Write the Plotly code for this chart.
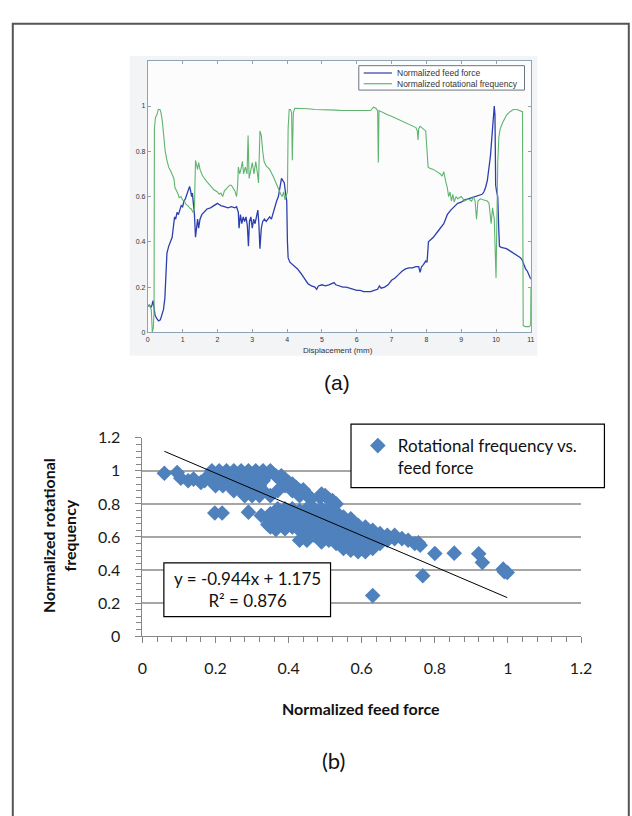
import plotly.graph_objects as go

# ---------------- Panel (a) data ----------------
disp_ff = [0.00,0.05,0.09,0.12,0.15,0.17,0.21,0.26,0.31,0.36,0.40,0.45,0.49,0.52,0.55,0.60,0.65,0.70,0.73,0.77,
           0.80,0.84,0.88,0.92,0.96,1.00,1.04,1.08,1.12,1.16,1.20,1.23,1.26,1.28,1.31,1.34,1.37,1.40,1.43,1.46,
           1.50,1.55,1.60,1.65,1.70,1.80,1.90,2.00,2.05,2.10,2.20,2.30,2.40,2.50,2.55,2.60,2.62,2.66,2.70,2.74,
           2.78,2.82,2.86,2.89,2.92,2.96,3.00,3.04,3.08,3.12,3.16,3.19,3.22,3.26,3.30,3.35,3.40,3.45,3.50,3.55,
           3.60,3.65,3.70,3.75,3.80,3.84,3.88,3.92,3.96,3.99,4.01,4.03,4.08,4.15,4.20,4.30,4.40,4.50,4.60,4.70,
           4.80,4.85,4.90,5.00,5.10,5.20,5.30,5.35,5.40,5.50,5.60,5.70,5.80,5.90,6.00,6.10,6.20,6.30,6.40,6.50,
           6.60,6.65,6.70,6.80,6.90,7.00,7.10,7.20,7.30,7.40,7.50,7.60,7.70,7.78,7.82,7.86,7.92,7.98,8.02,8.06,
           8.10,8.20,8.30,8.40,8.50,8.55,8.60,8.70,8.80,8.90,9.00,9.10,9.20,9.30,9.40,9.50,9.60,9.65,9.70,9.75,
           9.80,9.84,9.88,9.92,9.95,9.97,9.99,10.02,10.05,10.08,10.10,10.15,10.30,10.40,10.50,10.60,10.70,10.75,10.80,10.85,
           10.90,10.95,11.00]
feed_force = [0.115,0.12,0.11,0.12,0.14,0.11,0.075,0.06,0.05,0.055,0.08,0.10,0.15,0.25,0.35,0.38,0.40,0.42,0.46,0.51,
              0.50,0.53,0.52,0.545,0.56,0.555,0.58,0.59,0.61,0.62,0.645,0.625,0.60,0.615,0.57,0.52,0.42,0.47,0.50,0.46,
              0.50,0.52,0.53,0.54,0.545,0.55,0.56,0.57,0.565,0.56,0.555,0.55,0.555,0.55,0.555,0.53,0.46,0.52,0.48,0.51,
              0.49,0.51,0.47,0.38,0.49,0.51,0.46,0.50,0.48,0.52,0.54,0.48,0.37,0.46,0.49,0.50,0.49,0.50,0.51,0.50,
              0.53,0.56,0.58,0.60,0.64,0.68,0.67,0.66,0.61,0.58,0.40,0.33,0.31,0.30,0.295,0.28,0.26,0.235,0.215,0.205,
              0.20,0.19,0.205,0.21,0.205,0.21,0.215,0.22,0.21,0.205,0.20,0.20,0.195,0.19,0.185,0.185,0.18,0.18,0.18,0.185,
              0.19,0.205,0.195,0.20,0.21,0.23,0.24,0.255,0.27,0.28,0.285,0.285,0.29,0.29,0.265,0.29,0.30,0.315,0.31,0.40,
              0.405,0.42,0.44,0.46,0.48,0.50,0.52,0.54,0.555,0.57,0.575,0.585,0.59,0.595,0.60,0.605,0.61,0.62,0.64,0.67,
              0.72,0.78,0.86,0.93,1.00,0.96,0.65,0.62,0.60,0.45,0.38,0.375,0.37,0.36,0.35,0.34,0.33,0.32,0.30,0.28,
              0.27,0.25,0.235]

disp_rf = [0.00,0.05,0.10,0.13,0.16,0.18,0.19,0.22,0.26,0.30,0.35,0.38,0.42,0.46,0.50,0.55,0.60,0.65,0.70,0.75,
           0.78,0.82,0.86,0.90,0.95,1.00,1.05,1.10,1.15,1.20,1.25,1.30,1.34,1.37,1.40,1.43,1.46,1.50,1.55,1.60,
           1.70,1.80,1.90,2.00,2.05,2.10,2.15,2.20,2.30,2.35,2.40,2.45,2.50,2.55,2.58,2.60,2.64,2.68,2.72,2.75,
           2.80,2.85,2.88,2.91,2.95,3.00,3.05,3.10,3.15,3.18,3.22,3.26,3.30,3.34,3.40,3.50,3.60,3.65,3.70,3.76,
           3.82,3.86,3.90,3.94,3.98,4.01,4.03,4.06,4.10,4.13,4.15,4.18,4.22,4.40,4.60,4.80,5.00,5.20,5.40,5.60,
           5.80,6.00,6.20,6.40,6.48,6.55,6.60,6.62,6.64,6.70,6.80,6.90,7.00,7.20,7.40,7.50,7.60,7.70,7.74,7.76,
           7.78,7.82,7.90,7.98,8.02,8.05,8.10,8.20,8.30,8.40,8.45,8.50,8.55,8.60,8.64,8.68,8.72,8.76,8.80,8.85,
           8.90,9.00,9.10,9.20,9.30,9.35,9.40,9.44,9.48,9.55,9.65,9.75,9.80,9.83,9.86,9.90,9.95,10.00,10.02,10.05,
           10.08,10.12,10.20,10.30,10.40,10.50,10.60,10.70,10.76,10.78,10.85,10.95,10.99,11.00]
rot_freq = [0.12,0.12,0.10,0.00,0.02,0.10,0.90,0.95,0.96,0.985,0.985,0.97,0.93,0.87,0.80,0.76,0.73,0.715,0.70,0.68,
            0.64,0.63,0.615,0.595,0.60,0.585,0.58,0.565,0.56,0.55,0.545,0.53,0.55,0.76,0.74,0.72,0.75,0.72,0.70,0.685,
            0.665,0.645,0.63,0.62,0.61,0.615,0.60,0.625,0.64,0.65,0.65,0.64,0.625,0.60,0.65,0.73,0.70,0.725,0.755,0.70,
            0.73,0.70,0.87,0.68,0.72,0.75,0.70,0.755,0.70,0.66,0.89,0.87,0.80,0.755,0.735,0.72,0.69,0.67,0.65,0.625,
            0.61,0.60,0.62,0.585,0.60,0.62,0.90,0.985,0.985,0.97,0.76,0.97,0.99,0.99,0.988,0.985,0.985,0.982,0.982,0.98,
            0.98,0.978,0.978,0.98,0.995,0.99,0.98,0.75,0.98,0.975,0.965,0.96,0.955,0.94,0.925,0.92,0.91,0.905,0.89,0.85,
            0.90,0.91,0.90,0.89,0.80,0.73,0.725,0.72,0.71,0.70,0.69,0.71,0.67,0.64,0.60,0.62,0.58,0.61,0.575,0.60,
            0.59,0.60,0.58,0.59,0.58,0.60,0.58,0.50,0.58,0.59,0.585,0.58,0.57,0.50,0.48,0.55,0.50,0.24,0.55,0.75,
            0.86,0.90,0.93,0.96,0.975,0.985,0.985,0.98,0.975,0.03,0.025,0.025,0.03,0.20]

# ---------------- Panel (b) data ----------------
ff_pts = [
    # sparse left
    0.060,0.095,0.105,0.125,0.14,0.16,0.198,0.218,0.29,0.325,0.343,0.365,
    # top band
    0.19,0.21,0.23,0.25,0.27,0.29,0.31,0.33,0.35,
    0.18,0.20,0.22,0.24,0.26,0.28,0.30,0.32,0.34,0.365,
    0.17,0.19,0.21,0.23,0.25,0.27,0.29,0.31,0.33,0.38,
    0.20,0.22,0.24,0.26,0.28,0.30,0.32,0.39,
    0.25,0.27,0.29,0.31,0.33,0.37,0.41,
    0.28,0.30,0.32,0.35,0.43,
    # branch from top band
    0.38,0.39,0.40,0.41,0.42,0.43,0.44,0.45,0.46,
    # blob
    0.485,0.49,0.50,0.51,0.52,0.53,
    # middle band
    0.35,0.35,0.35,
    0.37,0.37,0.37,0.37,
    0.39,0.39,0.39,0.39,
    0.41,0.41,0.41,0.41,
    0.43,0.43,0.43,0.43,0.43,
    0.45,0.45,0.45,0.45,0.45,0.45,
    0.47,0.47,0.47,0.47,0.47,
    0.49,0.49,0.49,0.49,0.49,0.49,
    0.51,0.51,0.51,0.51,0.51,0.51,
    0.53,0.53,0.53,0.53,0.53,0.53,
    0.55,0.55,0.55,0.55,0.55,0.55,
    0.57,0.57,0.57,0.57,0.57,0.57,
    0.59,0.59,0.59,0.59,0.59,
    0.61,0.61,0.61,0.61,0.61,
    0.63,0.63,0.63,0.63,
    0.65,0.65,0.65,
    0.67,0.67,
    0.69,0.69,
    0.71,
    # right part
    0.727,0.745,0.755,0.76,
    # sparse right
    0.63,0.767,0.80,0.853,0.92,0.93,0.987,0.998,0.99]
rf_pts = [
    0.985,0.99,0.955,0.94,0.95,0.93,0.745,0.745,0.75,0.73,0.675,0.645,
    1.0,1.0,1.0,1.0,1.0,1.0,1.0,1.0,1.0,
    0.97,0.97,0.97,0.97,0.97,0.97,0.97,0.97,0.97,0.97,
    0.94,0.94,0.94,0.94,0.94,0.94,0.94,0.94,0.94,0.94,
    0.91,0.91,0.91,0.91,0.91,0.91,0.91,0.91,
    0.88,0.88,0.88,0.88,0.88,0.88,0.88,
    0.85,0.85,0.85,0.85,0.85,
    0.97,0.95,0.93,0.92,0.90,0.88,0.885,0.86,0.83,
    0.84,0.86,0.85,0.83,0.82,0.80,
    0.66,0.70,0.74,
    0.66,0.70,0.74,0.77,
    0.65,0.69,0.73,0.77,
    0.66,0.70,0.74,0.77,
    0.58,0.64,0.68,0.72,0.76,
    0.58,0.62,0.66,0.70,0.74,0.77,
    0.61,0.65,0.69,0.73,0.77,
    0.57,0.61,0.65,0.69,0.73,0.77,
    0.58,0.62,0.66,0.70,0.74,0.77,
    0.56,0.60,0.64,0.68,0.72,0.75,
    0.53,0.57,0.61,0.65,0.69,0.72,
    0.52,0.56,0.60,0.64,0.68,0.71,
    0.51,0.55,0.59,0.63,0.67,
    0.51,0.55,0.59,0.63,0.66,
    0.53,0.57,0.61,0.64,
    0.56,0.60,0.62,
    0.58,0.61,
    0.59,0.61,
    0.59,
    0.58,0.56,0.565,0.55,
    0.245,0.365,0.50,0.502,0.498,0.445,0.405,0.385,0.39]

slope = -0.944
intercept = 1.175
r_squared = 0.876

x_ticks_a = list(range(0, 12))
y_ticks_a = [0, 0.2, 0.4, 0.6, 0.8, 1]

# ---------------- Figure ----------------
W, H = 632, 816
def px(x):
    return x / W
def py(y):
    return 1 - y / H

blue = "#2c3fae"
green = "#5fb46e"

fig = go.Figure()

fig.add_trace(go.Scatter(x=disp_ff, y=feed_force, mode="lines", name="Normalized feed force",
                         line=dict(color=blue, width=1.3), xaxis="x", yaxis="y", showlegend=False))
fig.add_trace(go.Scatter(x=disp_rf, y=rot_freq, mode="lines", name="Normalized rotational frequency",
                         line=dict(color=green, width=1.1), xaxis="x", yaxis="y", showlegend=False))

tx = [min(ff_pts), max(ff_pts)]
ty = [slope * v + intercept for v in tx]

fig.add_trace(go.Scatter(x=ff_pts, y=rf_pts, mode="markers", name="Rotational frequency vs.<br>feed force",
                         marker=dict(symbol="diamond", size=12, color="#4f81bd", line=dict(width=0)),
                         xaxis="x2", yaxis="y2"))
fig.add_trace(go.Scatter(x=tx, y=ty, mode="lines", line=dict(color="black", width=1),
                         xaxis="x2", yaxis="y2", showlegend=False))

axis_a_color = "#8ea3b6"
fig.update_layout(
    width=W, height=H, autosize=False,
    margin=dict(l=0, r=0, t=0, b=0),
    paper_bgcolor="white", plot_bgcolor="rgba(0,0,0,0)",
    xaxis=dict(domain=[px(146.5), px(539.5)], range=[0, 11], anchor="y",
               tickvals=x_ticks_a, ticks="inside", ticklen=3, tickcolor=axis_a_color,
               showline=True, linecolor=axis_a_color, linewidth=1, mirror="allticks",
               showgrid=False, zeroline=False,
               tickfont=dict(family="Liberation Sans, Arial", size=7, color="#333333")),
    yaxis=dict(domain=[py(330), py(52)], range=[0, 1.2], anchor="x",
               tickvals=y_ticks_a, ticktext=["0", "0.2", "0.4", "0.6", "0.8", "1"],
               ticks="inside", ticklen=3, tickcolor=axis_a_color,
               showline=True, linecolor=axis_a_color, linewidth=1, mirror="allticks",
               showgrid=False, zeroline=False,
               tickfont=dict(family="Liberation Sans, Arial", size=7, color="#333333")),
    xaxis2=dict(domain=[px(141), px(591)], range=[0, 1.2], anchor="y2", dtick=0.2, tick0=0,
                ticks="outside", ticklen=6, tickcolor="#868686", tickwidth=1,
                minor=dict(dtick=0.04, ticks="outside", ticklen=5, tickcolor="#868686"),
                showline=True, linecolor="#868686", linewidth=1, showgrid=False, zeroline=False,
                ticklabelstandoff=12,
                tickfont=dict(family="Lato, Open Sans", size=16, color="#1a1a1a")),
    yaxis2=dict(domain=[py(641), py(438)], range=[0, 1.2], anchor="x2", dtick=0.2, tick0=0,
                ticks="outside", ticklen=6, tickcolor="#868686", tickwidth=1,
                minor=dict(dtick=0.04, ticks="outside", ticklen=5, tickcolor="#868686", showgrid=False),
                showline=True, linecolor="#868686", linewidth=1,
                showgrid=True, gridcolor="#a6a6a6", gridwidth=1.5, zeroline=False,
                ticklabelstandoff=12,
                tickfont=dict(family="Lato, Open Sans", size=16, color="#1a1a1a")),
    legend=dict(x=px(362), y=py(428), xanchor="left", yanchor="top", bgcolor="rgba(0,0,0,0)",
                borderwidth=0, valign="top",
                font=dict(family="Lato, Open Sans", size=17, color="#111111")),
    showlegend=True,
)

# legend of panel (a): box, line samples and labels
leg_a_items = [("Normalized feed force", blue, 64.5), ("Normalized rotational frequency", green, 75.5)]

shapes = [
    # outer frame
    dict(type="rect", xref="paper", yref="paper", x0=px(8), x1=px(640), y0=py(830), y1=py(14),
         line=dict(color="#555555", width=2), fillcolor="rgba(0,0,0,0)", layer="above"),
    # panel (a) background image area
    dict(type="rect", xref="paper", yref="paper", x0=px(128), x1=px(546), y0=py(354), y1=py(47),
         line=dict(width=0), fillcolor="#f3f4f6", layer="below"),
    dict(type="rect", xref="paper", yref="paper", x0=px(146.5), x1=px(539.5), y0=py(330), y1=py(52),
         line=dict(width=0), fillcolor="#fcfcfd", layer="below"),
    # legend box (a)
    dict(type="rect", xref="paper", yref="paper", x0=px(363), x1=px(533), y0=py(82), y1=py(57),
         line=dict(color="#6b7480", width=1), fillcolor="white", layer="above"),
    # legend box (b)
    dict(type="rect", xref="paper", yref="paper", x0=px(355), x1=px(615), y0=py(489), y1=py(424),
         line=dict(color="black", width=1.2), fillcolor="white", layer="above"),
    # equation box (b)
    dict(type="rect", xref="paper", yref="paper", x0=px(163), x1=px(334), y0=py(621), y1=py(566),
         line=dict(color="black", width=1.2), fillcolor="white", layer="above"),
]
for name, col, yy in leg_a_items:
    shapes.append(dict(type="line", xref="paper", yref="paper", x0=px(368), x1=px(397), y0=py(yy), y1=py(yy),
                       line=dict(color=col, width=1.2), layer="above"))
fig.update_layout(shapes=shapes)

def ann(text, x, y, size, family, **kw):
    d = dict(text=text, x=px(x), y=py(y), xref="paper", yref="paper", showarrow=False,
             xanchor=kw.pop("xanchor", "center"), yanchor="middle",
             font=dict(family=family, size=size, color=kw.pop("color", "#111111")))
    d.update(kw)
    return d

annotations = [
    ann("Displacement (mm)", 342, 349, 8, "Liberation Sans, Arial", color="#333333"),
    ann("(a)", 341, 381, 21, "Liberation Sans, Arial"),
    ann("<b>Normalized rotational<br>frequency</b>", 56, 538, 16, "Lato, Open Sans", textangle=-90),
    ann("<b>Normalized feed force</b>", 365, 715, 16, "Lato, Open Sans"),
    ann("(b)", 337, 768, 22, "Lato, Open Sans"),
    ann(f"y = {slope}x + {intercept}<br>R² = {r_squared}", 248.5, 593.5, 17, "Lato, Open Sans", align="center"),
]
for name, col, yy in leg_a_items:
    annotations.append(ann(name, 400, yy, 8.5, "Liberation Sans, Arial", color="#333333", xanchor="left"))
fig.update_layout(annotations=annotations)

fig.write_html(
    "out.html",
    config={"displayModeBar": False},
    post_script=("document.documentElement.style.margin='0';document.documentElement.style.padding='0';"
                 "document.body.style.margin='0';document.body.style.padding='0';"
                 "document.body.style.overflow='hidden';"
                 "var d=document.querySelector('.plotly-graph-div');"
                 "d.style.position='fixed';d.style.left='0px';d.style.top='0px';"),
)
